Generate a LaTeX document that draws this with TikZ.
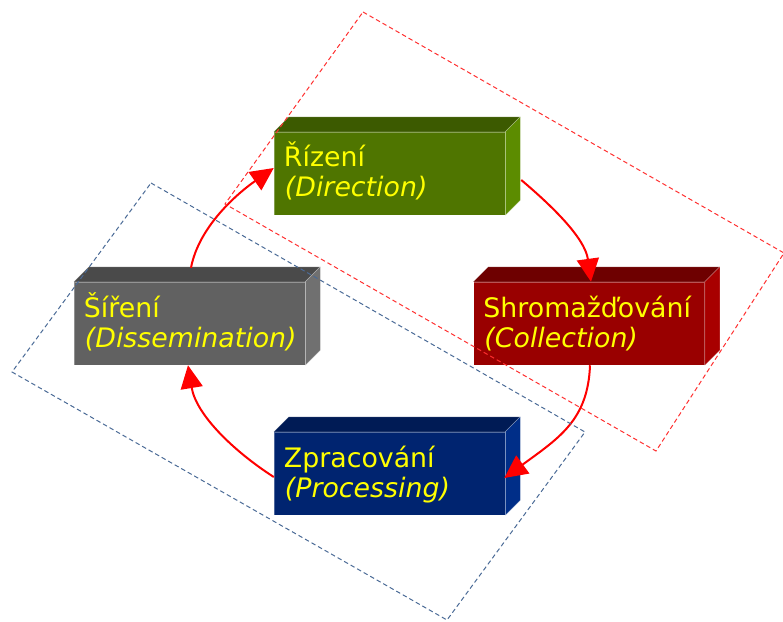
\documentclass[tikz,border=0pt]{standalone}
\usepackage{fontspec}
\setmainfont{DejaVu Sans}
\usetikzlibrary{arrows.meta,calc}
\definecolor{dirF}{HTML}{4F7500}
\definecolor{dirT}{HTML}{3C5A00}
\definecolor{dirS}{HTML}{5C8C00}
\definecolor{colF}{HTML}{990000}
\definecolor{colT}{HTML}{6E0000}
\definecolor{colS}{HTML}{A80000}
\definecolor{disF}{HTML}{616161}
\definecolor{disT}{HTML}{4A4A4A}
\definecolor{disS}{HTML}{707070}
\definecolor{proF}{HTML}{002470}
\definecolor{proT}{HTML}{001B55}
\definecolor{proS}{HTML}{002E88}
\definecolor{txtY}{HTML}{FFFF00}
\definecolor{dashR}{HTML}{FF3030}
\definecolor{dashB}{HTML}{4A6A96}
\newcommand{\boxfaces}[3]{%
  \filldraw[fill=#2, draw=white, draw opacity=0.3, line width=0.5pt]
    (#1.north west) -- ++(15,-15) -- ($(#1.north east)+(15,-15)$) -- (#1.north east) -- cycle;
  \filldraw[fill=#3, draw=white, draw opacity=0.3, line width=0.5pt]
    (#1.north east) -- ++(15,-15) -- ($(#1.south east)+(15,-15)$) -- (#1.south east) -- cycle;
}
\begin{document}
\begin{tikzpicture}[x=1pt,y=-1pt,
  front/.style={minimum width=231pt, minimum height=83pt, inner sep=0pt,
    fill=#1, draw=white, draw opacity=0.3, line width=0.5pt},
  lbl/.style={text=txtY, inner sep=0pt, font=\fontsize{26.8}{30}\selectfont},
  flow/.style={draw=red, line width=2pt, -{Triangle[length=23pt,width=22pt]}},
  dashbox/.style={line width=1pt, dash pattern=on 4.5pt off 3pt}]
\useasboundingbox (0,0) rectangle (783,621);
% boxes
\node[front=dirF] (dir) at (389.5,173.5) {};
\boxfaces{dir}{dirT}{dirS}
\node[front=colF] (col) at (589,323.5) {};
\boxfaces{col}{colT}{colS}
\node[front=disF] (dis) at (189.5,323.5) {};
\boxfaces{dis}{disT}{disS}
\node[front=proF] (pro) at (389.5,473.5) {};
\boxfaces{pro}{proT}{proS}
% labels
\node[lbl, anchor=base west] (dirA) at ($(dir.north west)+(10,35)$) {Řízení};
\node[lbl, anchor=base west] (dirB) at ($(dir.north west)+(11,65)$) {\itshape(Direction)};
\node[lbl, anchor=base west] (colA) at ($(col.north west)+(10,36)$) {Shromažďování};
\node[lbl, anchor=base west] (colB) at ($(col.north west)+(11,66)$) {\itshape(Collection)};
\node[lbl, anchor=base west] (disA) at ($(dis.north west)+(10,36)$) {Šíření};
\node[lbl, anchor=base west] (disB) at ($(dis.north west)+(11,66)$) {\itshape(Dissemination)};
\node[lbl, anchor=base west] (proA) at ($(pro.north west)+(10,36)$) {Zpracování};
\node[lbl, anchor=base west] (proB) at ($(pro.north west)+(11,66)$) {\itshape(Processing)};
% cycle arrows
\draw[flow] ($(dir.east)+(16,6.5)$) .. controls (552,206) and (585,238) .. ($(col.north)+(2,0)$);
\draw[flow] ($(col.south)+(1,0)$) .. controls (588,420) and (559,438) .. ($(pro.east)+(-1,4.5)$);
\draw[flow] ($(pro.west)+(0,3.5)$) .. controls (232,450) and (196,414) .. ($(dis.south)+(-1.5,0)$);
\draw[flow] ($(dis.north)+(1.5,-14)$) .. controls (199,226) and (238,193) .. ($(dir.west)+(0,-5.5)$);
% dashed groupings
\draw[dashbox, draw=dashR] (363,12) -- (784,253) -- (656,451) -- (225,204) -- cycle;
\draw[dashbox, draw=dashB] (151,183) -- (585,432) -- (447,620) -- (12,372) -- cycle;
\end{tikzpicture}
\end{document}
